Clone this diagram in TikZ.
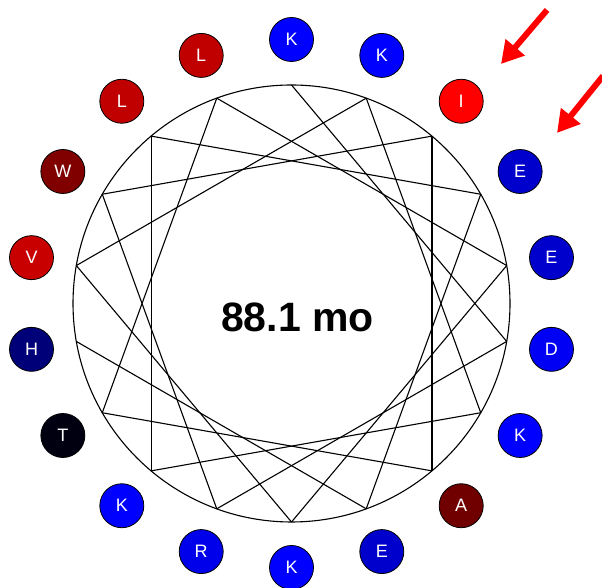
\documentclass[tikz,border=0pt]{standalone}
\usepackage{fontspec}
\setmainfont{Liberation Sans}
\usetikzlibrary{arrows.meta}
\definecolor{cK}{RGB}{0,0,255}
\definecolor{cD}{RGB}{0,0,245}
\definecolor{cR}{RGB}{0,0,235}
\definecolor{cE}{RGB}{0,0,205}
\definecolor{cI}{RGB}{255,0,0}
\definecolor{cL}{RGB}{192,0,0}
\definecolor{cV}{RGB}{200,0,0}
\definecolor{cW}{RGB}{128,0,0}
\definecolor{cA}{RGB}{112,0,0}
\definecolor{cT}{RGB}{0,0,16}
\definecolor{cH}{RGB}{0,0,120}
\definecolor{arrowred}{RGB}{255,0,0}
\tikzset{
  res/.style={circle, draw=black, line width=0.8pt, minimum size=44pt, inner sep=0pt,
    text=white, font=\fontsize{18}{18}\selectfont},
  chord/.style={line width=1.1pt, black},
  wheelline/.style={line width=1.1pt, black},
  redarrow/.style={line width=6pt, arrowred, -{Triangle[length=22pt,width=24pt]}},
}
\begin{document}
\begin{tikzpicture}[x=1pt,y=1pt]
\useasboundingbox (0,0) rectangle (602,588);
\coordinate (c) at (291.5,284.5);
\draw[wheelline] (c) circle[radius=218.5pt];
\foreach \i/\l/\col in {1/K/cK, 2/D/cD, 3/R/cR, 4/W/cW, 5/I/cI, 6/A/cA, 7/T/cT, 8/L/cL, 9/E/cE,
  10/K/cK, 11/V/cV, 12/K/cK, 13/K/cK, 14/K/cK, 15/L/cL, 16/E/cE, 17/E/cE, 18/H/cH} {
  \pgfmathsetmacro\a{90-100*(\i-1)}
  \coordinate (p\i) at ([shift={(\a:218.5pt)}]c);
  \node[res, fill=\col] (r\i) at ([shift={(\a:264pt)}]c) {\l};
}
\foreach \i [evaluate=\i as \j using int(\i+1)] in {1,...,17}
  \draw[chord] (p\i) -- (p\j);
\node[font=\fontsize{41}{41}\selectfont\bfseries, inner sep=0pt] (label) at (297.5,270.5) {88.1 mo};
\coordinate (a1s) at (547,578);
\coordinate (a1e) at (501,524);
\coordinate (a2s) at (603,512);
\coordinate (a2e) at (557,455);
\draw[redarrow] (a1s) -- (a1e);
\draw[redarrow] (a2s) -- (a2e);
\end{tikzpicture}
\end{document}
